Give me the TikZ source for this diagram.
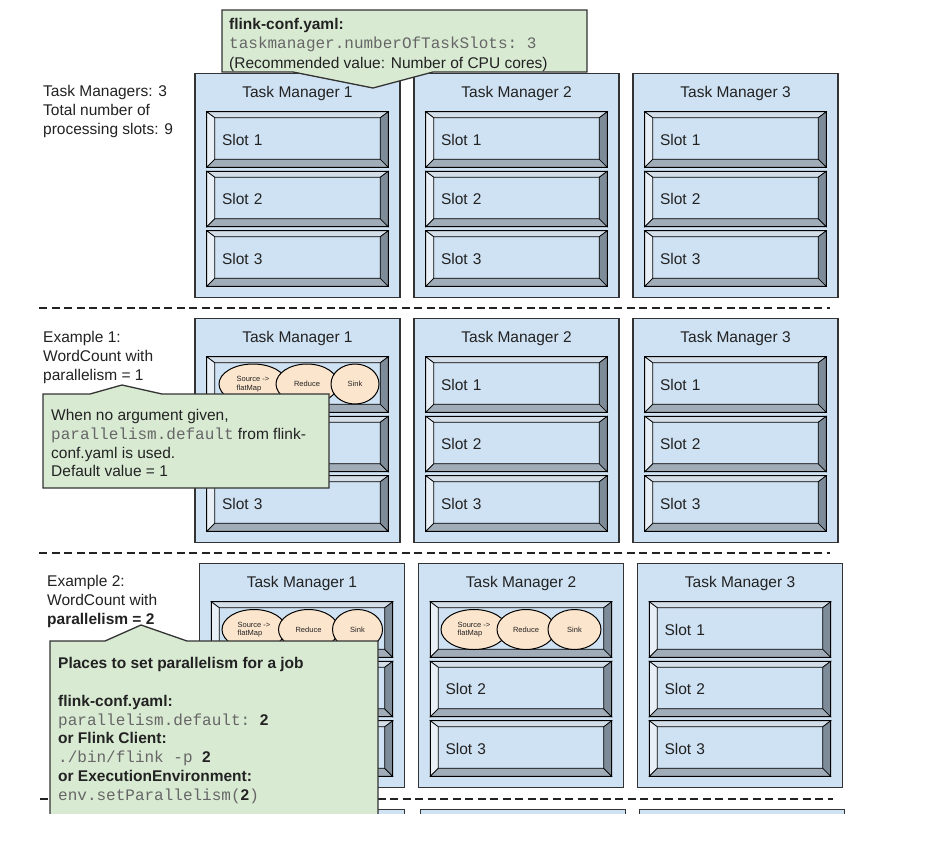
\documentclass[tikz,border=0pt]{standalone}
\usepackage{fontspec}
\setmainfont{Liberation Sans}
\setmonofont{Liberation Mono}
\usetikzlibrary{calc,shapes.geometric}
\definecolor{tmblue}{HTML}{CFE2F3}
\definecolor{callgreen}{HTML}{D9EAD3}
\definecolor{peach}{HTML}{FCE5CD}
\definecolor{edge}{HTML}{333333}
\definecolor{monogray}{HTML}{666666}
\definecolor{bevtop}{HTML}{D3DEE9}
\definecolor{bevleft}{HTML}{E8EFF6}
\definecolor{bevbot}{HTML}{A0ACB8}
\definecolor{bevright}{HTML}{7E8B98}
\definecolor{txt}{HTML}{222222}
\newcommand\mono[1]{{\fontsize{16}{18.8}\selectfont\ttfamily\color{monogray}#1}}
\newcommand\mkslot[4]{%
  \node[slotbox] (#1) at (#2,#3) {#4};
  \path[bevel,fill=bevtop] (#1.north west) -- (#1.north east) -- ($(#1.north east)+(-8,6)$) -- ($(#1.north west)+(8,6)$) -- cycle;
  \path[bevel,fill=bevleft] (#1.north west) -- ($(#1.north west)+(8,6)$) -- ($(#1.south west)+(8,-8)$) -- (#1.south west) -- cycle;
  \path[bevel,fill=bevbot] (#1.south west) -- ($(#1.south west)+(8,-8)$) -- ($(#1.south east)+(-8,-8)$) -- (#1.south east) -- cycle;
  \path[bevel,fill=bevright] (#1.north east) -- (#1.south east) -- ($(#1.south east)+(-8,-8)$) -- ($(#1.north east)+(-8,6)$) -- cycle;
  \draw[slotedge] (#1.north west) rectangle (#1.south east);
}
\newcommand\mktm[7]{%
  \node[tmbox,anchor=north] (#1) at (#2,#3) {};
  \node[tmtitle] (#1t) at ($(#1.north)+(0,24)$) {#4};
  \mkslot{#1s1}{#2}{#3+66.5}{#5}
  \mkslot{#1s2}{#2}{#3+126}{#6}
  \mkslot{#1s3}{#2}{#3+185.5}{#7}
}
\begin{document}
\begin{tikzpicture}[x=1pt,y=-1pt,
  every node/.style={font=\fontsize{15.5}{19}\selectfont,text=txt},
  tmbox/.style={draw=edge,line width=1.3pt,fill=tmblue,minimum width=205pt,minimum height=224pt,inner sep=0pt},
  tmtitle/.style={anchor=base,inner sep=0pt},
  slotbox/.style={fill=tmblue,minimum width=181pt,minimum height=55pt,inner xsep=15pt,inner ysep=0pt,text width=151pt,align=left},
  bevel/.style={draw=black,line width=0.7pt,line join=miter},
  slotedge/.style={draw=black,line width=1.3pt},
  ell/.style={ellipse,draw=black,line width=1pt,fill=peach,inner sep=0pt,minimum height=40pt,align=left,font=\fontsize{7.5}{8.5}\selectfont},
  dashline/.style={draw=txt,line width=2pt,dash pattern=on 8pt off 4.5pt},
  callout/.style={fill=callgreen,draw=edge,line width=1.3pt,line join=miter},
  sidetext/.style={anchor=north west,inner sep=0pt,align=left},
  calltext/.style={anchor=north west,inner sep=0pt,align=left,font=\fontsize{15.5}{18.8}\selectfont}
]
\useasboundingbox (0,0) rectangle (944,847);
\fill[white] (0,0) rectangle (944,847);

% ---------- row 1 ----------
\mktm{ra}{297.5}{73}{Task Manager 1}{Slot 1}{Slot 2}{Slot 3}
\mktm{rb}{516.5}{73}{Task Manager 2}{Slot 1}{Slot 2}{Slot 3}
\mktm{rc}{735.5}{73}{Task Manager 3}{Slot 1}{Slot 2}{Slot 3}
\node[sidetext] (info) at (43,85) {Task Managers: 3\\Total number of\\processing slots: 9};
\coordinate (d1a) at (39,307.5);
\coordinate (d1b) at (830,307.5);
\draw[dashline] (d1a) -- (d1b);
\path[callout] (222,10) -- (587,10) -- (587,72) -- (433,72) -- (373,88) -- (293,72) -- (222,72) -- cycle;
\node[calltext,font=\fontsize{15.5}{19.3}\selectfont] (cfg) at (229,18) {\textbf{flink-conf.yaml:}\\\mono{taskmanager.numberOfTaskSlots: 3}\\(Recommended value: Number of CPU cores)};

% ---------- row 2 ----------
\mktm{sa}{297.5}{318}{Task Manager 1}{}{}{Slot 3}
\mktm{sb}{516.5}{318}{Task Manager 2}{Slot 1}{Slot 2}{Slot 3}
\mktm{sc}{735.5}{318}{Task Manager 3}{Slot 1}{Slot 2}{Slot 3}
\node[ell,minimum width=68pt] (e1src) at (253,384) {Source ->\\flatMap};
\node[ell,minimum width=62pt] (e1red) at (307,384) {Reduce};
\node[ell,minimum width=48pt] (e1snk) at (355,384) {Sink};
\node[sidetext] (ex1) at (43,331) {Example 1:\\WordCount with\\parallelism = 1};
\path[callout] (43,394) -- (90,394) -- (122,385) -- (162,394) -- (329,394) -- (329,488) -- (43,488) -- cycle;
\node[calltext] (c1) at (51,409) {When no argument given,\\\mono{parallelism.default} from flink-\\conf.yaml is used.\\Default value = 1};
\coordinate (d2a) at (39,552.5);
\coordinate (d2b) at (830,552.5);
\draw[dashline] (d2a) -- (d2b);

% ---------- row 3 ----------
\mktm{ta}{302}{563}{Task Manager 1}{}{}{}
\mktm{tb}{521}{563}{Task Manager 2}{}{Slot 2}{Slot 3}
\mktm{tc}{740}{563}{Task Manager 3}{Slot 1}{Slot 2}{Slot 3}
\node[ell,minimum width=64pt] (e2src) at (254,629.5) {Source ->\\flatMap};
\node[ell,minimum width=60pt] (e2red) at (308.5,629.5) {Reduce};
\node[ell,minimum width=50pt] (e2snk) at (357.5,629.5) {Sink};
\node[ell,minimum width=66pt] (e3src) at (474,629.5) {Source ->\\flatMap};
\node[ell,minimum width=58pt] (e3red) at (526,629.5) {Reduce};
\node[ell,minimum width=53pt] (e3snk) at (574.5,629.5) {Sink};
\node[sidetext] (ex2) at (47,575) {Example 2:\\WordCount with\\\textbf{parallelism = 2}};
\coordinate (d3a) at (40,798.5);
\coordinate (d3b) at (833,798.5);
\draw[dashline] (d3a) -- (d3b);

% ---------- row 4 (cut off) ----------
\begin{scope}
\clip (0,0) rectangle (944,813);
\node[tmbox,anchor=north] (ua) at (302,809) {};
\node[tmbox,anchor=north] (ub) at (523,809) {};
\node[tmbox,anchor=north] (uc) at (742,809) {};
\path[callout] (50,641) -- (105,641) -- (141,625) -- (187,641) -- (378,641) -- (378,840) -- (50,840) -- cycle;
\node[calltext] (c2) at (58,657) {\textbf{Places to set parallelism for a job}\\[19pt]
\textbf{flink-conf.yaml:}\\
\mono{parallelism.default: }\textbf{2}\\
\textbf{or Flink Client:}\\
\mono{./bin/flink -p }\textbf{2}\\
\textbf{or ExecutionEnvironment:}\\
\mono{env.setParallelism(}\textbf{2}\mono{)}};
\end{scope}
\end{tikzpicture}
\end{document}
